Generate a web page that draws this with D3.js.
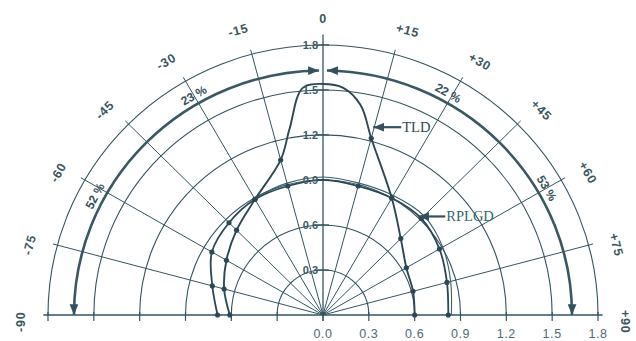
<!DOCTYPE html>
<html>
<head>
<meta charset="utf-8">
<script src="https://cdn.jsdelivr.net/npm/d3@7"></script>
<style>
  html, body { margin: 0; padding: 0; background: #ffffff; }
  svg { display: block; }
</style>
</head>
<body>
<svg id="chart" width="636" height="341"></svg>
<script>
// Relative intensity vs. emission angle (degrees from the normal)
const angles = [-90, -75, -60, -45, -30, -15, 0, 15, 30, 45, 60, 75, 90];

const tldAngles = [-90, -75, -60, -45, -30, -15, -10, -5, 0, 5, 10, 15, 30, 45, 60, 75, 90];
const tldValues = [0.61, 0.67, 0.73, 0.80, 0.89, 1.07, 1.26, 1.52, 1.54, 1.52, 1.42, 1.22, 0.90, 0.72, 0.63, 0.61, 0.60];

const rplgdValues = [0.69, 0.75, 0.84, 0.87, 0.89, 0.89, 0.90, 0.89, 0.90, 0.91, 0.88, 0.84, 0.82];
const rplgdTraceAngles = [-30, -15, 0, 15, 30, 45, 60, 75, 90];
const rplgdTraceValues = [0.90, 0.91, 0.92, 0.91, 0.92, 0.935, 0.905, 0.865, 0.84];

const radialTicks = [0.3, 0.6, 0.9, 1.2, 1.5, 1.8];
const radialTickLabels = ["0.3", "0.6", "0.9", "1.2", "1.5", "1.8"];
const baseTicks = [0, 0.3, 0.6, 0.9, 1.2, 1.5, 1.8];
const baseTickLabels = ["0.0", "0.3", "0.6", "0.9", "1.2", "1.5", "1.8"];
const angleTicks = [-90, -75, -60, -45, -30, -15, 0, 15, 30, 45, 60, 75, 90];
const angleTickLabels = ["-90", "-75", "-60", "-45", "-30", "-15", "0", "+15", "+30", "+45", "+60", "+75", "+90"];

// Share of flux in each angular zone, marked along the arrowed arcs
const spreadRadius = 1.63;
const spreadLabels = ["52 %", "23 %", "22 %", "53 %"];
const spreadLabelAngles = [-62, -30, 29, 60];

// ---- layout ----
const cx = 323, cy = 315, k = 0.982;
const ink = "#33535f";
const r = d3.scaleLinear().domain([0, 1.8]).range([0, 275]);
const rad = a => a * Math.PI / 180;
const pt = (a, v) => [r(v) * Math.sin(rad(a)), -r(v) * Math.cos(rad(a))];
const screen = (a, v) => { const p = pt(a, v); return [cx + p[0], cy + p[1] * k]; };

const svg = d3.select("#chart");
svg.append("rect").attr("width", 636).attr("height", 341).attr("fill", "#ffffff");

const defs = svg.append("defs");
defs.append("marker")
  .attr("id", "head").attr("viewBox", "0 0 10 8")
  .attr("refX", 10).attr("refY", 4)
  .attr("markerUnits", "userSpaceOnUse")
  .attr("markerWidth", 11).attr("markerHeight", 9)
  .attr("orient", "auto-start-reverse")
  .append("path").attr("d", "M0,0 L10,4 L0,8 Z").attr("fill", "#34515c");

const plot = svg.append("g").attr("transform", `translate(${cx},${cy}) scale(1,${k})`);

// concentric half circles
plot.append("g").selectAll("path").data(radialTicks).join("path")
  .attr("d", v => { const p = d3.path(); p.arc(0, 0, r(v), -Math.PI, 0, false); return p.toString(); })
  .attr("fill", "none").attr("stroke", ink).attr("stroke-width", 1.1);

// rays every 15°
plot.append("g").selectAll("line").data(angleTicks.filter(a => Math.abs(a) < 90 && a !== 0)).join("line")
  .attr("x1", 0).attr("y1", 0)
  .attr("x2", a => pt(a, 1.83)[0]).attr("y2", a => pt(a, 1.83)[1])
  .attr("stroke", ink).attr("stroke-width", 1);

// vertical axis and base line
plot.append("line").attr("x1", 0).attr("y1", 0).attr("x2", 0).attr("y2", -r(1.87))
  .attr("stroke", ink).attr("stroke-width", 1.3);
plot.append("line").attr("x1", -r(1.83)).attr("y1", 0).attr("x2", r(1.83)).attr("y2", 0)
  .attr("stroke", ink).attr("stroke-width", 1.6);

// ticks on vertical axis
plot.append("g").selectAll("line").data(radialTicks).join("line")
  .attr("x1", -6).attr("x2", 6).attr("y1", v => -r(v)).attr("y2", v => -r(v))
  .attr("stroke", ink).attr("stroke-width", 1.3);

// ticks on base line (both sides)
plot.append("g").selectAll("line").data(baseTicks.flatMap(v => [v, -v])).join("line")
  .attr("x1", v => Math.sign(v) * r(Math.abs(v))).attr("x2", v => Math.sign(v) * r(Math.abs(v)))
  .attr("y1", -3).attr("y2", 6)
  .attr("stroke", ink).attr("stroke-width", 1.2);

// arrowed spread arcs
const arcL = d3.path(); arcL.arc(0, 0, r(spreadRadius), rad(-90 - 90), rad(-0.9 - 90), false);
const arcR = d3.path(); arcR.arc(0, 0, r(spreadRadius), rad(90 - 90), rad(0.9 - 90), true);
plot.append("g").selectAll("path").data([arcL.toString(), arcR.toString()]).join("path")
  .attr("d", d => d)
  .attr("fill", "none").attr("stroke", "#3a5863").attr("stroke-width", 2.6)
  .attr("marker-start", "url(#head)").attr("marker-end", "url(#head)");

// curves
const line = d3.line().curve(d3.curveCatmullRom.alpha(0.5));
const tldPts = tldAngles.map((a, i) => pt(a, tldValues[i]));
const rplgdPts = angles.map((a, i) => pt(a, rplgdValues[i]));
const tracePts = rplgdTraceAngles.map((a, i) => pt(a, rplgdTraceValues[i]));

plot.append("path").attr("d", line(tracePts))
  .attr("fill", "none").attr("stroke", "#3c5f69").attr("stroke-width", 1.1);
plot.append("path").attr("d", line(rplgdPts))
  .attr("fill", "none").attr("stroke", "#2b4854").attr("stroke-width", 1.8);
plot.append("path").attr("d", line(tldPts))
  .attr("fill", "none").attr("stroke", "#2b4854").attr("stroke-width", 1.9);

// measured points on the 15° rays
const dots = [
  ...tldAngles.map((a, i) => ({ a, v: tldValues[i] })).filter(d => d.a % 15 === 0 && d.a !== 0),
  ...angles.map((a, i) => ({ a, v: rplgdValues[i] })).filter(d => d.a !== 0)
];
plot.append("g").selectAll("circle").data(dots).join("circle")
  .attr("cx", d => pt(d.a, d.v)[0]).attr("cy", d => pt(d.a, d.v)[1])
  .attr("r", 2.6).attr("fill", "#2b4854");

// ---- text ----
// radius labels along the vertical axis
svg.append("g").selectAll("text").data(radialTicks).join("text")
  .attr("x", cx - 5).attr("y", (v) => cy - r(v) * k)
  .attr("text-anchor", "end").attr("dominant-baseline", "central")
  .attr("font-family", "'Liberation Sans', Arial, sans-serif").attr("font-weight", "bold")
  .attr("font-size", 11).attr("fill", "#3d5b66")
  .text((v, i) => radialTickLabels[i]);

// radius labels under the base line
svg.append("g").selectAll("text").data(baseTicks).join("text")
  .attr("x", v => cx + r(v)).attr("y", 338)
  .attr("text-anchor", "middle")
  .attr("font-family", "'Liberation Sans', Arial, sans-serif")
  .attr("font-size", 12.5).attr("letter-spacing", 0.6).attr("fill", "#4d6a75")
  .text((v, i) => baseTickLabels[i]);

// angle labels around the rim
svg.append("g").selectAll("text").data(angleTicks).join("text")
  .attr("transform", a => {
    const off = a === 0 ? 0 : Math.sign(a) * 1.3;
    const p = screen(a + off, 1.975);
    return `translate(${p[0]},${p[1]}) rotate(${a})`;
  })
  .attr("text-anchor", "middle").attr("dominant-baseline", "central")
  .attr("font-family", "'Liberation Sans', Arial, sans-serif").attr("font-weight", "bold")
  .attr("font-size", 12.5).attr("letter-spacing", 0.8).attr("fill", "#3a5762")
  .text((a, i) => angleTickLabels[i]);

// percentages on the arcs
svg.append("g").selectAll("text").data(spreadLabelAngles).join("text")
  .attr("transform", a => {
    const p = screen(a, 1.69);
    return `translate(${p[0]},${p[1]}) rotate(${a})`;
  })
  .attr("text-anchor", "middle").attr("dominant-baseline", "central")
  .attr("font-family", "'Liberation Sans', Arial, sans-serif").attr("font-weight", "bold")
  .attr("font-size", 12).attr("fill", "#34515c")
  .text((a, i) => spreadLabels[i]);

// curve call-outs
const callouts = [
  { name: "TLD", a: 15, v: tldValues[tldAngles.indexOf(15)], dx: 2, dy: -11, len: 28, color: "#2f4b57" },
  { name: "RPLGD", a: 45, v: rplgdValues[angles.indexOf(45)], dx: -3, dy: -2, len: 27, color: "#2f6670" }
];
callouts.forEach(c => {
  const p = screen(c.a, c.v);
  const tip = [p[0] + c.dx, p[1] + c.dy];
  svg.append("line")
    .attr("x1", tip[0] + c.len).attr("y1", tip[1]).attr("x2", tip[0]).attr("y2", tip[1])
    .attr("stroke", "#34515c").attr("stroke-width", 2.2)
    .attr("marker-end", "url(#head)");
  svg.append("text")
    .attr("x", tip[0] + c.len + 1).attr("y", tip[1] + 5)
    .attr("font-family", "'Liberation Serif', 'Times New Roman', serif")
    .attr("font-size", 14.5).attr("fill", c.color)
    .text(c.name);
});
</script>
</body>
</html>
